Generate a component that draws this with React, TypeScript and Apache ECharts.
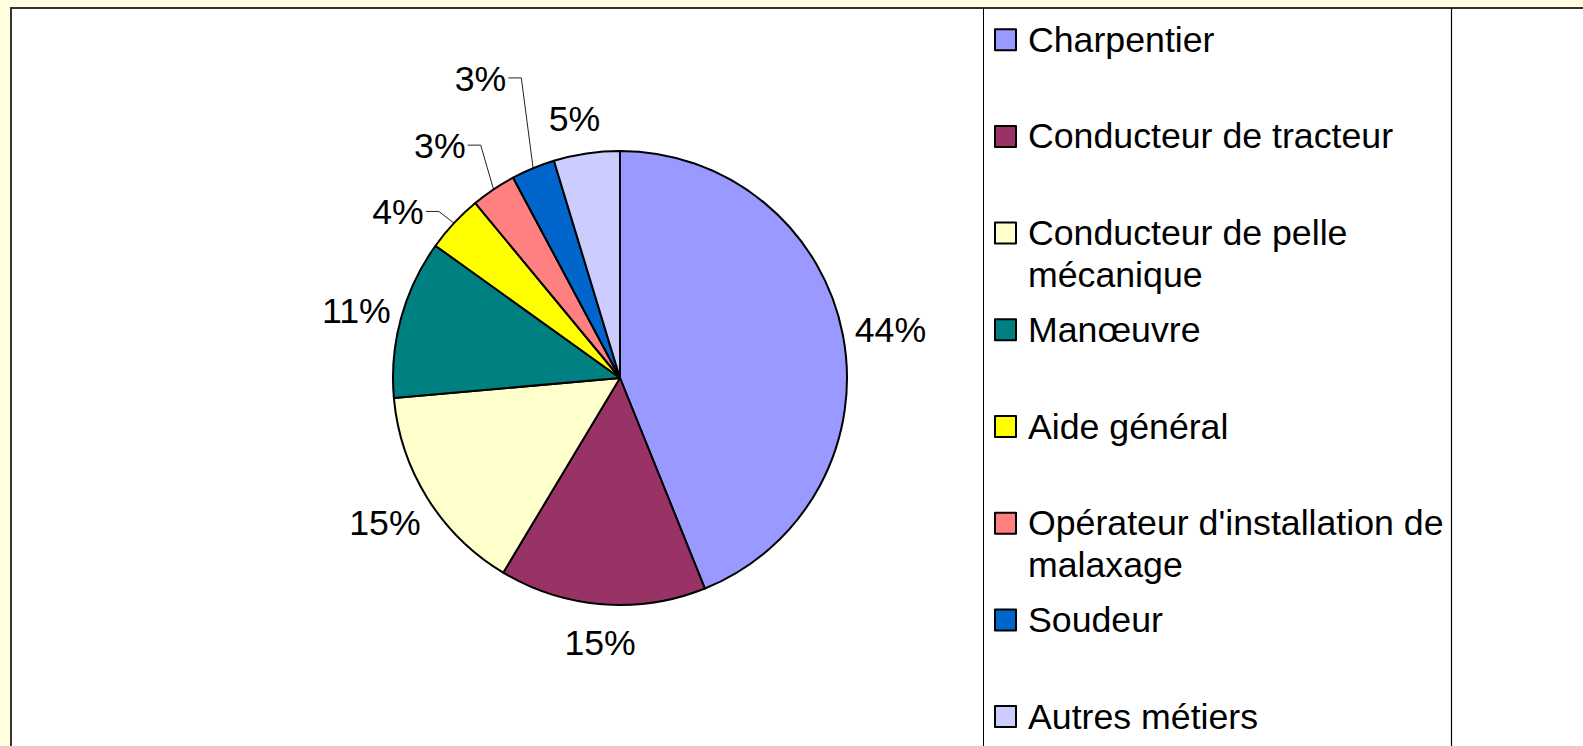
import React, { useEffect, useRef } from 'react';
import * as echarts from 'echarts';

// ---- data ----
const categories = [
  'Charpentier',
  'Conducteur de tracteur',
  'Conducteur de pelle mécanique',
  'Manœuvre',
  'Aide général',
  "Opérateur d'installation de malaxage",
  'Soudeur',
  'Autres métiers',
];
const values = [43.9, 14.7, 15.0, 11.3, 4.1, 3.2, 3.1, 4.7];
const legendLabels = [
  'Charpentier',
  'Conducteur de tracteur',
  'Conducteur de pelle\nmécanique',
  'Manœuvre',
  'Aide général',
  "Opérateur d'installation de\nmalaxage",
  'Soudeur',
  'Autres métiers',
];

// ---- styles / layout ----
const colors = ['#9999FF', '#993366', '#FFFFCC', '#008080', '#FFFF00', '#FF8080', '#0066CC', '#CCCCFF'];
const hasLeader = [false, false, false, false, true, true, true, false];
// [angle offset from slice middle (deg), distance of label centre from pie centre (px)]
const labelPlace = [
  [1.0, 274.6],
  [-0.2, 265.3],
  [0.4, 276.1],
  [-1.0, 272],
  [-6.3, 276.9],
  [-4.0, 293.6],
  [-2.5, 330],
  [-1.5, 262.9],
];
const CX = 620;
const CY = 378;
const R = 227;
const FONT = "'Liberation Sans', Arial, Helvetica, sans-serif";
const FS = 35.7;
const LH = 42;

export default function App() {
  const ref = useRef<HTMLDivElement>(null);
  useEffect(() => {
    if (!ref.current) return;
    const chart = echarts.init(ref.current, undefined, { renderer: 'svg' });
    const total = values.reduce((a, b) => a + b, 0);
    const midAngle = (i: number) => {
      let cum = 0;
      for (let j = 0; j < i; j++) cum += values[j];
      return ((cum + values[i] / 2) / total) * Math.PI * 2;
    };

    const legends = categories.map((name, i) => {
      const twoLine = legendLabels[i].indexOf('\n') >= 0;
      const iconCy = 39.7 + 96.7 * i;
      return {
        data: [name],
        orient: 'vertical',
        left: 994,
        top: twoLine ? iconCy - 1.5 * LH : iconCy - LH / 2,
        padding: 0,
        itemWidth: 21,
        itemHeight: 21,
        icon: 'rect',
        selectedMode: false,
        // an empty first line keeps the first text line level with the icon
        formatter: () => (twoLine ? '\n' + legendLabels[i] : legendLabels[i]),
        itemStyle: { borderColor: '#000', borderWidth: 2 },
        textStyle: {
          fontFamily: FONT,
          fontSize: FS,
          color: '#000',
          lineHeight: LH,
          padding: [0, 0, 0, 7],
        },
      };
    });

    chart.setOption({
      animation: false,
      backgroundColor: '#FFFFE0',
      graphic: [
        {
          type: 'rect',
          z: -10,
          shape: { x: 11, y: 8, width: 1700, height: 900 },
          style: { fill: '#ffffff', stroke: '#333', lineWidth: 2 },
        },
        {
          type: 'line',
          z: -5,
          shape: { x1: 983.5, y1: 8, x2: 983.5, y2: 800 },
          style: { stroke: '#000', lineWidth: 1 },
        },
        {
          type: 'line',
          z: -5,
          shape: { x1: 1451.5, y1: 8, x2: 1451.5, y2: 800 },
          style: { stroke: '#000', lineWidth: 1.2 },
        },
      ],
      legend: legends,
      series: [
        {
          type: 'pie',
          center: [CX, CY],
          radius: R,
          startAngle: 90,
          clockwise: true,
          avoidLabelOverlap: false,
          itemStyle: { borderColor: '#000', borderWidth: 2 },
          label: {
            show: true,
            position: 'outside',
            fontFamily: FONT,
            fontSize: FS,
            color: '#000',
            formatter: (p: any) => Math.round(p.percent) + '%',
          },
          labelLine: { show: true, lineStyle: { color: '#222', width: 1 } },
          labelLayout: (p: any) => {
            const i = p.dataIndex;
            const mid = midAngle(i);
            const a = mid + (labelPlace[i][0] * Math.PI) / 180;
            const d = labelPlace[i][1];
            const x = CX + d * Math.sin(a);
            const y = CY - d * Math.cos(a);
            const res: any = { x, y, align: 'center', verticalAlign: 'middle' };
            if (hasLeader[i]) {
              const w = p.labelRect.width;
              const lx = x + w / 2 + 2;
              const ly = y - 1;
              const ex = CX + R * Math.sin(mid);
              const ey = CY - R * Math.cos(mid);
              res.labelLinePoints = [
                [ex, ey],
                [lx + 13, ly],
                [lx, ly],
              ];
            }
            return res;
          },
          data: categories.map((name, i) => ({
            name,
            value: values[i],
            itemStyle: { color: colors[i] },
            labelLine: { show: hasLeader[i] },
          })),
        },
      ],
    });
    return () => chart.dispose();
  }, []);
  return (
    <div
      ref={ref}
      style={{ position: 'fixed', left: 0, top: 0, width: 1583, height: 746 }}
    />
  );
}
